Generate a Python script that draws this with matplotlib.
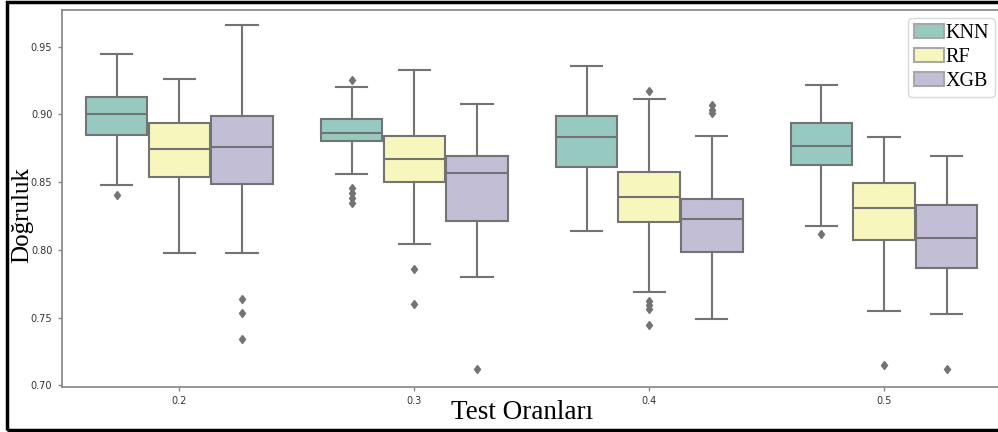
import matplotlib
matplotlib.use("Agg")
import matplotlib.pyplot as plt
from matplotlib.patches import Rectangle, Patch

# test ratios and models
ratios = ["0.2", "0.3", "0.4", "0.5"]
models = ["KNN", "RF", "XGB"]
colors = ["#96cac1", "#f6f6bd", "#c1bed6"]
line_c = "#737373"

# box stats, one list per model (order = ratios)
knn_lo  = [0.848, 0.8563, 0.8139, 0.8178]
knn_q1  = [0.8851, 0.8800, 0.8615, 0.8625]
knn_med = [0.9004, 0.8864, 0.8832, 0.8770]
knn_q3  = [0.9125, 0.8965, 0.8987, 0.8936]
knn_hi  = [0.9443, 0.9202, 0.9354, 0.9219]
knn_fl  = [[0.8405], [0.9256, 0.8455, 0.8420, 0.8385, 0.8345], [], [0.8115]]

rf_lo  = [0.7974, 0.8041, 0.7690, 0.7547]
rf_q1  = [0.8541, 0.8504, 0.8208, 0.8073]
rf_med = [0.8743, 0.8667, 0.8393, 0.8307]
rf_q3  = [0.8936, 0.8837, 0.8578, 0.8494]
rf_hi  = [0.9263, 0.9325, 0.9113, 0.8832]
rf_fl  = [[], [0.7856, 0.7597], [0.9170, 0.7625, 0.7595, 0.7565, 0.7444], [0.7153]]

xgb_lo  = [0.7974, 0.7797, 0.7488, 0.7530]
xgb_q1  = [0.8489, 0.8215, 0.7981, 0.7865]
xgb_med = [0.8760, 0.8566, 0.8230, 0.8087]
xgb_q3  = [0.8987, 0.8694, 0.8373, 0.8331]
xgb_hi  = [0.9658, 0.9076, 0.8837, 0.8694]
xgb_fl  = [[0.7636, 0.7535, 0.7345], [0.7118], [0.9070, 0.9035, 0.9010], [0.7118]]

stats = [
    (knn_lo, knn_q1, knn_med, knn_q3, knn_hi, knn_fl),
    (rf_lo, rf_q1, rf_med, rf_q3, rf_hi, rf_fl),
    (xgb_lo, xgb_q1, xgb_med, xgb_q3, xgb_hi, xgb_fl),
]

fig = plt.figure(figsize=(9.98, 4.32), dpi=100)
ax = fig.add_axes([62 / 998, 45.3 / 432, 939.5 / 998, 376.7 / 432])

w = 0.8 / len(models)
for m, (lo, q1, med, q3, hi, fl) in enumerate(stats):
    bx = []
    for i in range(len(ratios)):
        bx.append(dict(whislo=lo[i], q1=q1[i], med=med[i], q3=q3[i],
                       whishi=hi[i], fliers=fl[i]))
    pos = [i - 0.4 + w / 2 + m * w for i in range(len(ratios))]
    ax.bxp(bx, positions=pos, widths=w * 0.98, capwidths=w * 0.5,
           patch_artist=True, manage_ticks=False,
           boxprops=dict(facecolor=colors[m], edgecolor=line_c, lw=1.5),
           medianprops=dict(color=line_c, lw=1.5),
           whiskerprops=dict(color=line_c, lw=1.5),
           capprops=dict(color=line_c, lw=1.5),
           flierprops=dict(marker="d", markersize=4.5, markerfacecolor=line_c,
                           markeredgecolor=line_c))

ax.set_xlim(-0.5, 3.5)
ax.set_ylim(0.699, 0.977)
ax.set_xticks(range(len(ratios)))
ax.set_xticklabels(ratios)
ax.set_yticks([0.70, 0.75, 0.80, 0.85, 0.90, 0.95])
ax.tick_params(labelsize=7, colors="#333333", length=3, width=1, pad=4)
ax.tick_params(axis="both", color="#888888")
for s in ax.spines.values():
    s.set_color("#8c8c8c")
    s.set_linewidth(1.3)

ax.set_ylabel("Doğruluk", family="Liberation Serif", fontsize=18)
ax.yaxis.set_label_coords(-0.031, 0.455)
ax.set_xlabel("Test Oranları", family="Liberation Serif", fontsize=19.5)
ax.xaxis.set_label_coords(0.49, -0.035)

handles = [Patch(facecolor=colors[k], edgecolor="#a8a8a8", lw=1.5) for k in range(3)]
leg = ax.legend(handles, models, loc="upper right", bbox_to_anchor=(0.997, 0.99),
                prop=dict(family="Liberation Serif", size=14.5), handlelength=1.5,
                handletextpad=0.05, borderpad=0.3, labelspacing=0.25,
                frameon=True, fancybox=True, borderaxespad=0.2)
leg.get_frame().set_edgecolor("#d0d0d0")

# black frame around the picture
fig.patches.append(Rectangle((7 / 998, 2 / 432), 1.1, 428 / 432, transform=fig.transFigure,
                             fill=False, edgecolor="black", lw=2.5, clip_on=False))

fig.savefig("out.png", dpi=100)
